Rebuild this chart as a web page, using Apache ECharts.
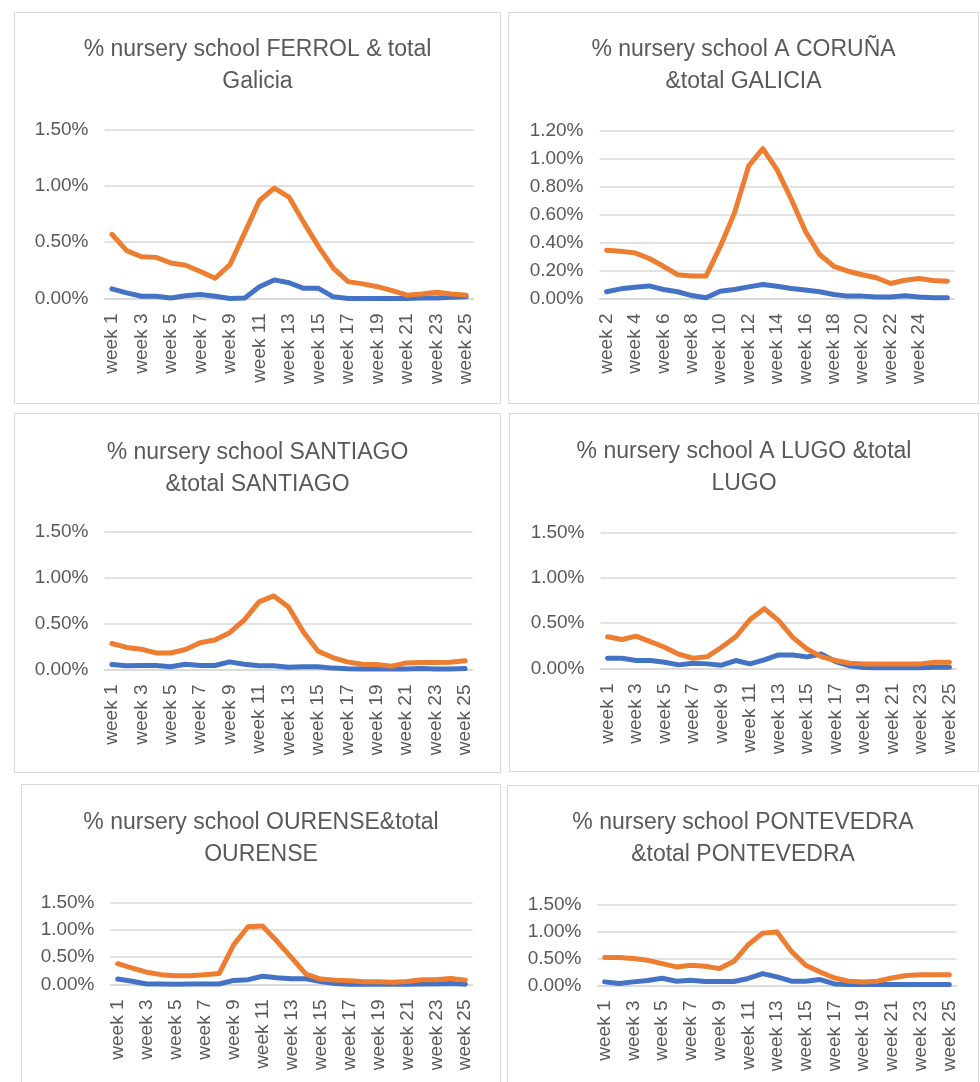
<!DOCTYPE html>
<html>
<head>
<meta charset="utf-8">
<script src="https://cdn.jsdelivr.net/npm/echarts@6/dist/echarts.min.js"></script>
<style>
html, body {
  margin: 0;
  padding: 0;
  width: 980px;
  height: 1082px;
  overflow: hidden;
  background: #fff;
}
.panel {
  position: absolute;
  box-sizing: border-box;
  border: 1.5px solid #d9d9d9;
  background: #fff;
}
.chart {
  position: absolute;
  left: 0; top: 0; right: 0; bottom: 0;
}
</style>
</head>
<body>
<div id="app"></div>
<script>
// categories
const weeks = ['week 1', 'week 2', 'week 3', 'week 4', 'week 5', 'week 6', 'week 7', 'week 8', 'week 9',
  'week 10', 'week 11', 'week 12', 'week 13', 'week 14', 'week 15', 'week 16', 'week 17', 'week 18',
  'week 19', 'week 20', 'week 21', 'week 22', 'week 23', 'week 24', 'week 25'];
const weeksCoruna = ['week 2', 'week 3', 'week 4', 'week 5', 'week 6', 'week 7', 'week 8', 'week 9',
  'week 10', 'week 11', 'week 12', 'week 13', 'week 14', 'week 15', 'week 16', 'week 17', 'week 18',
  'week 19', 'week 20', 'week 21', 'week 22', 'week 23', 'week 24', 'week 25', ''];

// values in %
const ferrolBlue = [0.085, 0.05, 0.02, 0.02, 0.005, 0.025, 0.035, 0.02, 0.0, 0.005, 0.105, 0.165, 0.14, 0.09, 0.09, 0.015, 0.0, 0.0, 0.0, 0.0, 0.0, 0.005, 0.005, 0.01, 0.015];
const ferrolOrange = [0.57, 0.425, 0.37, 0.365, 0.315, 0.295, 0.24, 0.18, 0.30, 0.585, 0.87, 0.98, 0.90, 0.675, 0.46, 0.27, 0.15, 0.13, 0.105, 0.07, 0.03, 0.04, 0.055, 0.04, 0.03];

const corunaBlue = [0.048, 0.069, 0.08, 0.09, 0.064, 0.048, 0.021, 0.005, 0.052, 0.064, 0.083, 0.10, 0.088, 0.071, 0.06, 0.048, 0.029, 0.017, 0.017, 0.01, 0.01, 0.019, 0.01, 0.005, 0.005];
const corunaOrange = [0.345, 0.338, 0.326, 0.286, 0.23, 0.17, 0.16, 0.16, 0.37, 0.61, 0.945, 1.07, 0.92, 0.71, 0.48, 0.314, 0.23, 0.195, 0.17, 0.148, 0.107, 0.13, 0.143, 0.128, 0.124];

const santiagoBlue = [0.054, 0.04, 0.043, 0.043, 0.03, 0.058, 0.043, 0.043, 0.083, 0.058, 0.04, 0.04, 0.025, 0.03, 0.03, 0.015, 0.007, 0.005, 0.005, 0.005, 0.005, 0.01, 0.005, 0.005, 0.01];
const santiagoOrange = [0.283, 0.24, 0.22, 0.18, 0.18, 0.217, 0.29, 0.32, 0.40, 0.54, 0.735, 0.80, 0.68, 0.41, 0.20, 0.13, 0.083, 0.058, 0.054, 0.036, 0.072, 0.076, 0.076, 0.08, 0.094];

const lugoBlue = [0.113, 0.113, 0.088, 0.088, 0.069, 0.04, 0.058, 0.051, 0.036, 0.088, 0.051, 0.095, 0.15, 0.15, 0.128, 0.16, 0.077, 0.03, 0.011, 0.007, 0.007, 0.007, 0.007, 0.015, 0.015];
const lugoOrange = [0.35, 0.32, 0.357, 0.296, 0.234, 0.157, 0.113, 0.131, 0.234, 0.35, 0.54, 0.66, 0.53, 0.343, 0.215, 0.131, 0.088, 0.058, 0.051, 0.051, 0.051, 0.051, 0.051, 0.069, 0.069];

const ourenseBlue = [0.10, 0.06, 0.01, 0.01, 0.005, 0.01, 0.01, 0.01, 0.075, 0.088, 0.15, 0.125, 0.106, 0.106, 0.056, 0.02, 0.005, 0.005, 0.005, 0.005, 0.005, 0.01, 0.01, 0.02, 0.005];
const ourenseOrange = [0.38, 0.30, 0.225, 0.18, 0.16, 0.16, 0.18, 0.20, 0.725, 1.056, 1.07, 0.79, 0.49, 0.19, 0.10, 0.08, 0.07, 0.05, 0.05, 0.04, 0.056, 0.088, 0.088, 0.11, 0.08];

const pontevedraBlue = [0.067, 0.037, 0.067, 0.092, 0.135, 0.08, 0.098, 0.074, 0.074, 0.074, 0.13, 0.22, 0.16, 0.08, 0.08, 0.11, 0.03, 0.018, 0.018, 0.018, 0.018, 0.018, 0.018, 0.018, 0.018];
const pontevedraOrange = [0.52, 0.52, 0.50, 0.466, 0.405, 0.344, 0.374, 0.356, 0.313, 0.448, 0.755, 0.97, 0.99, 0.632, 0.374, 0.25, 0.14, 0.08, 0.067, 0.08, 0.14, 0.184, 0.20, 0.20, 0.20];

const FONT = '"Liberation Sans", Arial, sans-serif';
const TEXT = '#595959';
const GRIDLINE = '#d9d9d9';
const BORDER = 1.5;

// panel boxes and plot areas in page pixels
const panels = [
  { title: '% nursery school FERROL & total\nGalicia', cats: weeks, blue: ferrolBlue, orange: ferrolOrange,
    max: 1.5, step: 0.5, box: [14, 12, 487, 392], plot: [105, 473, 130, 298], titleY: 50 },
  { title: '% nursery school A CORUÑA\n&total GALICIA', cats: weeksCoruna, blue: corunaBlue, orange: corunaOrange,
    max: 1.2, step: 0.2, box: [508, 12, 471, 392], plot: [600, 954, 131, 298], titleY: 50 },
  { title: '% nursery school SANTIAGO\n&total SANTIAGO', cats: weeks, blue: santiagoBlue, orange: santiagoOrange,
    max: 1.5, step: 0.5, box: [14, 413, 487, 360], plot: [105, 472, 532, 669], titleY: 453 },
  { title: '% nursery school A LUGO &total\nLUGO', cats: weeks, blue: lugoBlue, orange: lugoOrange,
    max: 1.5, step: 0.5, box: [509, 413, 470, 359], plot: [601, 956, 533, 668], titleY: 452 },
  { title: '% nursery school OURENSE&total\nOURENSE', cats: weeks, blue: ourenseBlue, orange: ourenseOrange,
    max: 1.5, step: 0.5, box: [21, 784, 480, 330], plot: [111, 472, 903, 984], titleY: 823 },
  { title: '% nursery school PONTEVEDRA\n&total PONTEVEDRA', cats: weeks, blue: pontevedraBlue, orange: pontevedraOrange,
    max: 1.5, step: 0.5, box: [507, 785, 472, 330], plot: [598, 956, 905, 985], titleY: 823 }
];

function buildOption (p) {
  const [bx, by, bw, bh] = p.box;
  const [x1, x2, y1, y2] = p.plot;
  return {
    animation: false,
    textStyle: { fontFamily: FONT },
    title: {
      text: p.title,
      left: 'center',
      top: p.titleY - by - BORDER - 16,
      padding: 0,
      textStyle: {
        fontFamily: FONT,
        fontSize: 23,
        lineHeight: 32,
        fontWeight: 'normal',
        color: TEXT
      }
    },
    grid: {
      left: x1 - bx - BORDER,
      right: (bx + bw - BORDER) - x2,
      top: y1 - by - BORDER,
      bottom: (by + bh - BORDER) - y2
    },
    xAxis: {
      type: 'category',
      data: p.cats,
      boundaryGap: true,
      axisLine: { show: true, lineStyle: { color: GRIDLINE, width: 1.5 } },
      axisTick: { show: false },
      axisLabel: {
        interval: 1,
        rotate: 90,
        margin: 15,
        fontFamily: FONT,
        fontSize: 19,
        color: TEXT
      }
    },
    yAxis: {
      type: 'value',
      min: 0,
      max: p.max,
      interval: p.step,
      axisLine: { show: false },
      axisTick: { show: false },
      splitLine: { lineStyle: { color: GRIDLINE, width: 1.5 } },
      axisLabel: {
        margin: 16,
        fontFamily: FONT,
        fontSize: 19,
        color: TEXT,
        formatter: v => v.toFixed(2) + '%'
      }
    },
    series: [
      {
        type: 'line',
        data: p.blue,
        symbol: 'none',
        lineStyle: { color: '#4472C4', width: 5, join: 'round', cap: 'round' }
      },
      {
        type: 'line',
        data: p.orange,
        symbol: 'none',
        lineStyle: { color: '#ED7D31', width: 5, join: 'round', cap: 'round' }
      }
    ]
  };
}

const app = document.getElementById('app');
panels.forEach(p => {
  const [bx, by, bw, bh] = p.box;
  const panel = document.createElement('div');
  panel.className = 'panel';
  panel.style.left = bx + 'px';
  panel.style.top = by + 'px';
  panel.style.width = bw + 'px';
  panel.style.height = bh + 'px';
  const el = document.createElement('div');
  el.className = 'chart';
  panel.appendChild(el);
  app.appendChild(panel);
  const chart = echarts.init(el);
  chart.setOption(buildOption(p));
});
</script>
</body>
</html>
